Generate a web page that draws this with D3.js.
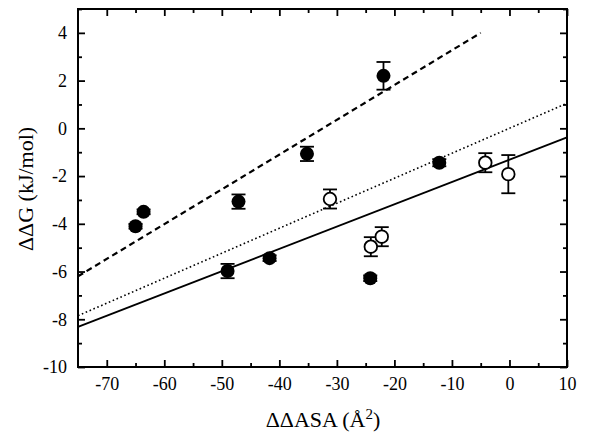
<!DOCTYPE html>
<meta charset="utf-8">
<title>ddG vs ddASA</title>
<style>
body {
  margin: 0;
  background: #fff;
}
text {
  font-family: "Liberation Serif", "DejaVu Serif", serif;
  fill: #000;
}
</style>
<svg></svg>
<script src="https://cdnjs.cloudflare.com/ajax/libs/d3/7.8.5/d3.min.js"></script>
<script>
// filled circles
var filledX   = [-65.0, -63.6, -47.1, -35.2, -21.9, -12.2, -49.0, -41.7, -24.2];
var filledY   = [-4.10, -3.50, -3.07, -1.07,  2.20, -1.44, -5.98, -5.44, -6.28];
var filledErr = [ 0.10,  0.10,  0.30,  0.30,  0.58,  0.15,  0.30,  0.12,  0.12];
// open circles
var openX   = [-31.2, -4.2, -0.2, -24.1, -22.2];
var openY   = [-2.96, -1.44, -1.92, -4.96, -4.54];
var openErr = [ 0.40,  0.40,  0.80,  0.40,  0.40];
// fitted lines (end points)
var dashedX = [-75, -5],  dashedY = [-6.2, 4.0];
var dottedX = [-75, 10],  dottedY = [-7.85, 1.05];
var solidX  = [-75, 10],  solidY  = [-8.32, -0.38];
// ticks
var xTicks = [-70, -60, -50, -40, -30, -20, -10, 0, 10];
var yTicks = [-10, -8, -6, -4, -2, 0, 2, 4];
var xMinor = [-65, -55, -45, -35, -25, -15, -5, 5];
var yMinor = [-9, -7, -5, -3, -1, 1, 3, 5];

var width = 590, height = 435;
var pL = 78, pR = 567, pT = 9, pB = 367;

var svg = d3.select("svg")
    .attr("width", width)
    .attr("height", height);

var x = d3.scaleLinear().domain([-75, 10]).range([pL, pR]);
var y = d3.scaleLinear().domain([-10, 5]).range([pB, pT]);

// fit lines
var line = d3.line()
    .x(function(d) { return x(d[0]); })
    .y(function(d) { return y(d[1]); });
function pairs(xs, ys) { return xs.map(function(v, i) { return [v, ys[i]]; }); }

svg.append("path")
    .attr("d", line(pairs(dashedX, dashedY)))
    .style("fill", "none").style("stroke", "#000")
    .style("stroke-width", 2.2).style("stroke-dasharray", "6,4");
svg.append("path")
    .attr("d", line(pairs(dottedX, dottedY)))
    .style("fill", "none").style("stroke", "#000")
    .style("stroke-width", 1.6).style("stroke-dasharray", "1.6,2.6");
svg.append("path")
    .attr("d", line(pairs(solidX, solidY)))
    .style("fill", "none").style("stroke", "#000")
    .style("stroke-width", 1.8);

// error bars
function errorBars(xs, ys, es) {
  var g = svg.append("g").style("stroke", "#000").style("stroke-width", 1.8);
  xs.forEach(function(v, i) {
    var cx = x(v), y0 = y(ys[i] - es[i]), y1 = y(ys[i] + es[i]);
    g.append("line").attr("x1", cx).attr("x2", cx).attr("y1", y0).attr("y2", y1);
    g.append("line").attr("x1", cx - 7).attr("x2", cx + 7).attr("y1", y0).attr("y2", y0);
    g.append("line").attr("x1", cx - 7).attr("x2", cx + 7).attr("y1", y1).attr("y2", y1);
  });
}
errorBars(filledX, filledY, filledErr);
errorBars(openX, openY, openErr);

svg.append("g").selectAll("circle")
    .data(filledX)
  .enter().append("circle")
    .attr("cx", function(d) { return x(d); })
    .attr("cy", function(d, i) { return y(filledY[i]); })
    .attr("r", 7)
    .style("fill", "#000");

svg.append("g").selectAll("circle")
    .data(openX)
  .enter().append("circle")
    .attr("cx", function(d) { return x(d); })
    .attr("cy", function(d, i) { return y(openY[i]); })
    .attr("r", 6.3)
    .style("fill", "#fff")
    .style("stroke", "#000")
    .style("stroke-width", 1.8);

// axes: ticks inward on all four sides
function axis(gen, tr, vals, len) {
  return svg.append("g")
      .attr("transform", tr)
      .call(gen.tickValues(vals).tickSizeInner(len).tickSizeOuter(0).tickPadding(6));
}
var fmt = function(d) { return d; };
var xb = axis(d3.axisBottom(x).tickFormat(fmt), "translate(0," + pB + ")", xTicks, -7);
axis(d3.axisBottom(x).tickFormat(""), "translate(0," + pB + ")", xMinor, -4);
axis(d3.axisTop(x).tickFormat(""), "translate(0," + pT + ")", xTicks, -7);
axis(d3.axisTop(x).tickFormat(""), "translate(0," + pT + ")", xMinor, -4);
var yl = axis(d3.axisLeft(y).tickFormat(fmt), "translate(" + pL + ",0)", yTicks, -7);
axis(d3.axisLeft(y).tickFormat(""), "translate(" + pL + ",0)", yMinor, -4);
axis(d3.axisRight(y).tickFormat(""), "translate(" + pR + ",0)", yTicks, -7);
axis(d3.axisRight(y).tickFormat(""), "translate(" + pR + ",0)", yMinor, -4);

svg.selectAll(".domain").remove();
svg.selectAll(".tick line").style("stroke", "#000").style("stroke-width", 1.8);
svg.selectAll(".tick text")
    .style("font-family", "'Liberation Serif', serif")
    .style("font-size", "18px")
    .style("fill", "#000");
xb.selectAll(".tick text").attr("y", 10);
yl.selectAll(".tick text").attr("x", -11);

// frame
svg.append("rect")
    .attr("x", pL).attr("y", pT)
    .attr("width", pR - pL).attr("height", pB - pT)
    .style("fill", "none").style("stroke", "#000").style("stroke-width", 2);

// axis titles
var xt = svg.append("text")
    .attr("x", 323)
    .attr("y", 427)
    .style("text-anchor", "middle")
    .style("font-size", "22px");
xt.append("tspan").text("\u0394\u0394ASA (\u00C5");
xt.append("tspan").attr("dy", -8).style("font-size", "15px").text("2");
xt.append("tspan").attr("dy", 8).text(")");

svg.append("text")
    .attr("transform", "translate(33,189) rotate(-90)")
    .style("text-anchor", "middle")
    .style("font-size", "22px")
    .text("\u0394\u0394G (kJ/mol)");
</script>
